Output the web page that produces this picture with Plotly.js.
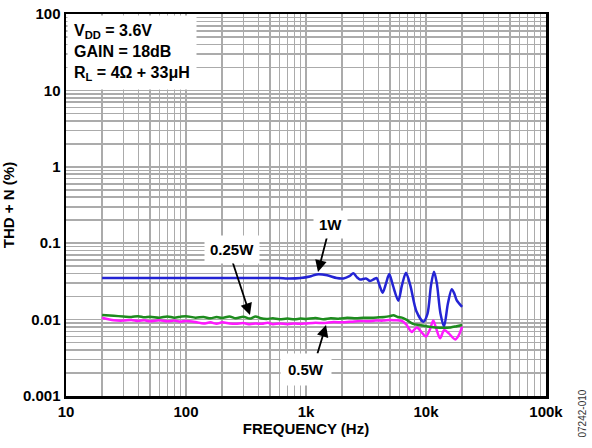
<!DOCTYPE html>
<html><head><meta charset="utf-8">
<script src="https://cdn.plot.ly/plotly-3.0.1.min.js"></script>
<style>html,body{margin:0;padding:0;background:#fff}#chart{width:592px;height:448px}</style>
</head><body><div id="chart"></div>
<script>
const freq1W = [20,30,50,100,200,400,600,700,900,1100,1230,1500,1800,2050,2300,2480,2650,2820,3160,3420,3700,3880,4100,4350,4650,4940,5300,5880,6300,6810,7400,8300,9500,10300,11000,11660,12300,13200,14130,15200,16370,17200,18000,20000];
const thd1W = [0.035,0.035,0.035,0.035,0.035,0.035,0.035,0.0345,0.035,0.037,0.039,0.038,0.035,0.0346,0.037,0.0403,0.036,0.0335,0.0346,0.032,0.034,0.035,0.028,0.0225,0.030,0.0394,0.028,0.0177,0.028,0.041,0.028,0.013,0.0094,0.012,0.028,0.0423,0.030,0.012,0.0081,0.016,0.025,0.022,0.018,0.0147];

const freq025W = [20,25,30,35,40,45,50,60,70,80,90,100,120,140,160,180,200,230,260,300,340,380,420,470,530,600,700,800,900,1000,1200,1400,1600,1900,2200,2600,3000,3500,4000,4500,5000,5350,5800,6300,6900,7800,8800,10000,12000,14000,16000,18000,20000];
const thd025W = [0.0115,0.0112,0.011,0.0108,0.0111,0.0107,0.0109,0.0106,0.011,0.0106,0.0109,0.0111,0.0106,0.0108,0.0104,0.0108,0.0105,0.011,0.0104,0.0109,0.0103,0.011,0.0104,0.0102,0.0104,0.0101,0.0103,0.0101,0.0103,0.0102,0.0105,0.0101,0.0104,0.0103,0.0106,0.0104,0.0106,0.0106,0.0107,0.0108,0.0111,0.0114,0.0108,0.0106,0.0099,0.0088,0.0085,0.0082,0.0079,0.0078,0.0079,0.0082,0.0085];

const freq05W = [20,25,30,35,40,45,50,60,70,80,90,100,120,140,160,180,200,230,260,300,340,380,430,480,530,600,700,800,900,1000,1200,1400,1700,2000,2400,2800,3300,3800,4400,5000,5500,6300,6900,7600,8400,9200,10000,10800,11500,12200,13100,14200,15500,17500,18700,20000];
const thd05W = [0.0106,0.0098,0.0097,0.0099,0.0096,0.0098,0.0095,0.0098,0.0095,0.0097,0.0094,0.0096,0.0093,0.0089,0.0092,0.0088,0.0092,0.0089,0.0088,0.009,0.0087,0.0089,0.0088,0.0091,0.0087,0.0089,0.0087,0.0089,0.0088,0.0089,0.0091,0.009,0.0093,0.0092,0.0094,0.0096,0.0095,0.0097,0.0097,0.0099,0.0098,0.0096,0.0085,0.0069,0.0079,0.0068,0.006,0.0075,0.0097,0.0075,0.0057,0.0073,0.0066,0.0055,0.0062,0.0081];

const xTickVals = [10,100,1000,10000,100000];
const xTickText = ['10','100','1k','10k','100k'];
const yTickVals = [0.001,0.01,0.1,1,10,100];
const yTickText = ['0.001','0.01','0.1','1','10','100'];

const FONT = 'Liberation Sans, Arial, sans-serif';
const FS = 15;
const gridCol = '#ababab';

const traces = [
  {x: freq1W, y: thd1W, mode:'lines', line:{color:'#2424d4', width:2.5, shape:'spline', smoothing:0.8}, name:'1W'},
  {x: freq05W, y: thd05W, mode:'lines', line:{color:'#ff1aff', width:2.5, shape:'spline', smoothing:0.8}, name:'0.5W'},
  {x: freq025W, y: thd025W, mode:'lines', line:{color:'#1e8c1e', width:2.5, shape:'spline', smoothing:0.8}, name:'0.25W'}
];

const axCommon = {
  showline:true, mirror:true, linecolor:'#000', linewidth:2.5,
  showgrid:true, gridcolor:gridCol, gridwidth:1.5,
  ticks:'', zeroline:false,
  tickfont:{family:FONT, size:FS, color:'#000', weight:'bold'},
  minor:{showgrid:true, gridcolor:gridCol, gridwidth:1.5, dtick:'D1'}
};

const lab = (t) => '<b>' + t + '</b>';
const arrowStyle = {showarrow:true, arrowhead:2, arrowsize:1.3, arrowwidth:1.8, arrowcolor:'#000', text:''};

const layout = {
  width:592, height:448,
  margin:{l:66, r:46, t:14, b:52},
  paper_bgcolor:'#fff', plot_bgcolor:'#fff',
  showlegend:false,
  xaxis: Object.assign({}, axCommon, {
    type:'log', range:[1,5], tickvals:xTickVals, ticktext:xTickText,
    title:{text:lab('FREQUENCY (Hz)'), font:{family:FONT, size:FS, color:'#000'}, standoff:4}
  }),
  yaxis: Object.assign({}, axCommon, {
    type:'log', range:[-3,2], tickvals:yTickVals, ticktext:yTickText,
    title:{text:lab('THD + N (%)'), font:{family:FONT, size:FS, color:'#000'}, standoff:8}
  }),
  annotations:[
    {xref:'paper', yref:'paper', x:0, y:1, xanchor:'left', yanchor:'top', showarrow:false, align:'left',
     text:lab('V<sub>DD</sub> = 3.6V<br>GAIN = 18dB<br>R<sub>L</sub> = 4Ω + 33μH'),
     font:{family:FONT, size:16, color:'#000'}, bgcolor:'#fff', borderpad:6, xshift:1, yshift:-1},
    Object.assign({x:Math.log10(1259), y:Math.log10(0.042), ax:10, ay:-39}, arrowStyle),
    Object.assign({x:Math.log10(341), y:Math.log10(0.0115), ax:-18, ay:-55}, arrowStyle),
    Object.assign({x:Math.log10(1468), y:Math.log10(0.0085), ax:-9, ay:30}, arrowStyle),
    {x:Math.log10(1585), y:Math.log10(0.178), showarrow:false, text:lab('1W'), font:{family:FONT, size:FS, color:'#000'}, bgcolor:'#fff', borderpad:5},
    {x:Math.log10(242), y:Math.log10(0.0815), showarrow:false, text:lab('0.25W'), font:{family:FONT, size:FS, color:'#000'}, bgcolor:'#fff', borderpad:5},
    {x:Math.log10(1000), y:Math.log10(0.00219), showarrow:false, text:lab('0.5W'), font:{family:FONT, size:FS, color:'#000'}, bgcolor:'#fff', borderpad:7},
    {xref:'paper', yref:'paper', x:1, y:0, xanchor:'left', yanchor:'bottom', xshift:28, yshift:-44, textangle:-90, showarrow:false,
     text:'07242-010', font:{family:FONT, size:10, color:'#333'}}
  ]
};

Plotly.newPlot('chart', traces, layout, {staticPlot:true, displayModeBar:false});
</script>
</body></html>
